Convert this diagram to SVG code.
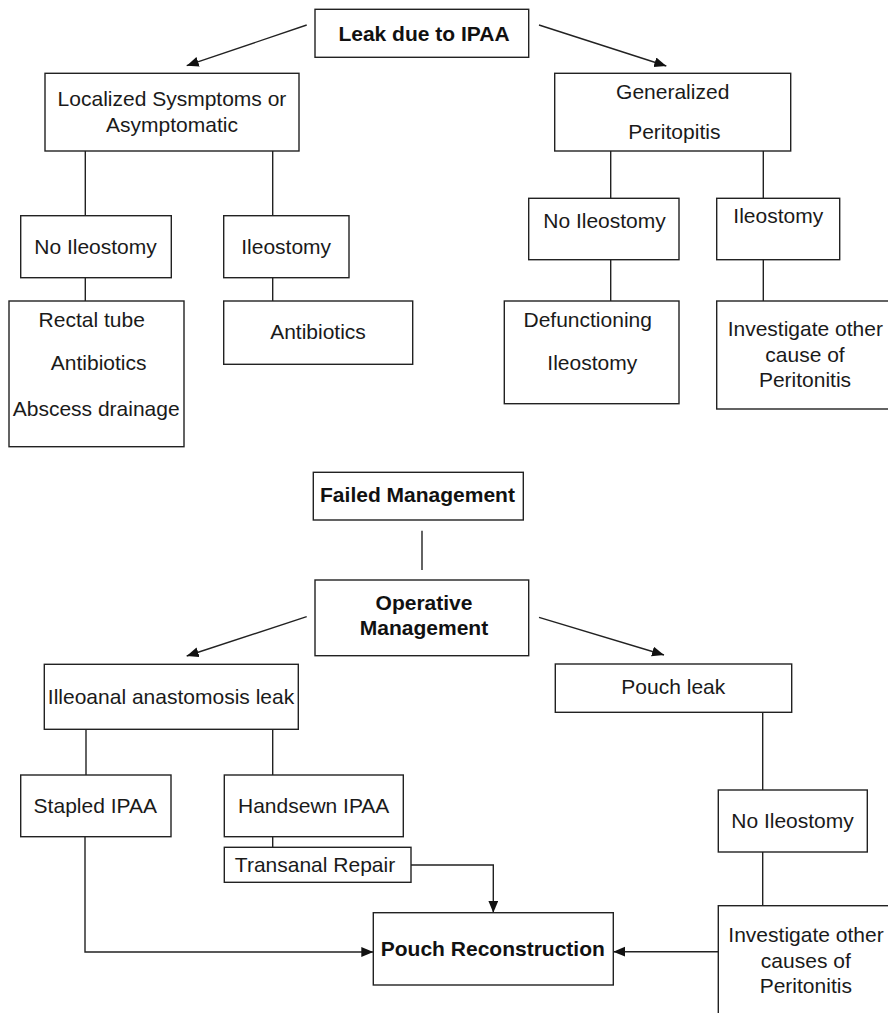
<svg xmlns="http://www.w3.org/2000/svg" width="888" height="1013" viewBox="0 0 888 1013">
<defs>
<marker id="ah" markerUnits="userSpaceOnUse" markerWidth="13" markerHeight="11" refX="12" refY="5" orient="auto">
<path d="M0,0 L12,5 L0,10 Z" fill="#111"/>
</marker>
<style>
.b{fill:#fff;stroke:#222;stroke-width:1.4}
.t{font-family:"Liberation Sans",Arial,sans-serif;font-size:21px;fill:#1a1a1a;text-anchor:middle}
.tb{font-family:"Liberation Sans",Arial,sans-serif;font-size:21px;font-weight:bold;fill:#111;text-anchor:middle}
.c{fill:none;stroke:#222;stroke-width:1.4}
.a{fill:none;stroke:#222;stroke-width:1.4;marker-end:url(#ah)}
</style>
</defs>
<rect width="888" height="1013" fill="#fff"/>
<g id="connectors">
<line class="a" x1="306.7" y1="25" x2="186.7" y2="65.7"/>
<line class="a" x1="539" y1="25" x2="666.3" y2="66"/>
<line class="c" x1="85.3" y1="151" x2="85.3" y2="215.7"/>
<line class="c" x1="272.7" y1="151" x2="272.7" y2="215.7"/>
<line class="c" x1="85.3" y1="277.7" x2="85.3" y2="301"/>
<line class="c" x1="272.7" y1="277.7" x2="272.7" y2="301"/>
<line class="c" x1="610.7" y1="151" x2="610.7" y2="198.3"/>
<line class="c" x1="763.3" y1="151" x2="763.3" y2="198.3"/>
<line class="c" x1="610.7" y1="259.7" x2="610.7" y2="301"/>
<line class="c" x1="763.3" y1="259.7" x2="763.3" y2="301"/>
<line class="c" x1="422" y1="530.7" x2="422" y2="570"/>
<line class="a" x1="306.7" y1="616.7" x2="186.7" y2="656"/>
<line class="a" x1="539" y1="617.3" x2="664" y2="655"/>
<line class="c" x1="86" y1="729.3" x2="86" y2="775"/>
<line class="c" x1="272.7" y1="729.3" x2="272.7" y2="775"/>
<line class="c" x1="272.7" y1="836.7" x2="272.7" y2="847.3"/>
<polyline class="a" points="85,836.7 85,952 373.3,952"/>
<polyline class="a" points="411,865 493.3,865 493.3,912.7"/>
<line class="a" x1="718.3" y1="951.7" x2="613.3" y2="951.7"/>
<line class="c" x1="762.7" y1="712.3" x2="762.7" y2="790"/>
<line class="c" x1="762.7" y1="852" x2="762.7" y2="905.7"/>
</g>
<g id="leak">
<rect class="b" x="315" y="9.3" width="213.7" height="48"/>
<text class="tb" x="424" y="40.5">Leak due to IPAA</text>
</g>
<g id="localized">
<rect class="b" x="45" y="73.3" width="254" height="77.7"/>
<text class="t" x="172" y="106">Localized Sysmptoms or</text>
<text class="t" x="172" y="131.7">Asymptomatic</text>
</g>
<g id="generalized">
<rect class="b" x="554.7" y="73.3" width="236" height="77.7"/>
<text class="t" x="672.7" y="99">Generalized</text>
<text class="t" x="674.3" y="139.3">Peritopitis</text>
</g>
<g id="noileo-left">
<rect class="b" x="20.7" y="215.7" width="150.6" height="62"/>
<text class="t" x="95.5" y="254">No Ileostomy</text>
</g>
<g id="ileo-left">
<rect class="b" x="223.7" y="215.7" width="125.3" height="62"/>
<text class="t" x="286.2" y="254">Ileostomy</text>
</g>
<g id="noileo-right">
<rect class="b" x="528.7" y="198.3" width="150.3" height="61.4"/>
<text class="t" x="604.5" y="228.3">No Ileostomy</text>
</g>
<g id="ileo-right">
<rect class="b" x="716.7" y="198.3" width="123" height="61.4"/>
<text class="t" x="778.3" y="222.7">Ileostomy</text>
</g>
<g id="rectal">
<rect class="b" x="9" y="301" width="175" height="145.7"/>
<text class="t" x="91.7" y="326.7">Rectal tube</text>
<text class="t" x="98.7" y="370">Antibiotics</text>
<text class="t" x="96.2" y="415.7">Abscess drainage</text>
</g>
<g id="antibiotics">
<rect class="b" x="223.7" y="301" width="189" height="63.3"/>
<text class="t" x="318" y="339.3">Antibiotics</text>
</g>
<g id="defunctioning">
<rect class="b" x="504.3" y="301" width="174.7" height="102.7"/>
<text class="t" x="587.7" y="327.3">Defunctioning</text>
<text class="t" x="592.3" y="370">Ileostomy</text>
</g>
<g id="investigate-top">
<rect class="b" x="716.7" y="301" width="190" height="108"/>
<text class="t" x="805.3" y="336">Investigate other</text>
<text class="t" x="805" y="361.7">cause of</text>
<text class="t" x="805" y="386.7">Peritonitis</text>
</g>
<g id="failed">
<rect class="b" x="313.3" y="472.3" width="210" height="47.7"/>
<text class="tb" x="417.5" y="502.3">Failed Management</text>
</g>
<g id="operative">
<rect class="b" x="315" y="580" width="213.7" height="75.7"/>
<text class="tb" x="424" y="610">Operative</text>
<text class="tb" x="424" y="635">Management</text>
</g>
<g id="illeoanal">
<rect class="b" x="44.3" y="664.3" width="254" height="65"/>
<text class="t" x="171" y="704">Illeoanal anastomosis leak</text>
</g>
<g id="pouchleak">
<rect class="b" x="555.3" y="664" width="236.4" height="48.3"/>
<text class="t" x="673.3" y="694.3">Pouch leak</text>
</g>
<g id="stapled">
<rect class="b" x="20.7" y="775" width="150.3" height="61.7"/>
<text class="t" x="95.3" y="812.7">Stapled IPAA</text>
</g>
<g id="handsewn">
<rect class="b" x="224.3" y="775" width="179" height="61.7"/>
<text class="t" x="313.7" y="812.7">Handsewn IPAA</text>
</g>
<g id="transanal">
<rect class="b" x="224.3" y="847.3" width="186.7" height="35"/>
<text class="t" x="315" y="872.3">Transanal Repair</text>
</g>
<g id="noileo-bottom">
<rect class="b" x="718.3" y="790" width="149" height="62"/>
<text class="t" x="792.5" y="828.3">No Ileostomy</text>
</g>
<g id="pouchrecon">
<rect class="b" x="373.3" y="912.7" width="240" height="72.3"/>
<text class="tb" x="492.8" y="956">Pouch Reconstruction</text>
</g>
<g id="investigate-bottom">
<rect class="b" x="718.3" y="905.7" width="190" height="130"/>
<text class="t" x="806" y="942.3">Investigate other</text>
<text class="t" x="805.8" y="968.3">causes of</text>
<text class="t" x="805.8" y="992.7">Peritonitis</text>
</g>
</svg>
